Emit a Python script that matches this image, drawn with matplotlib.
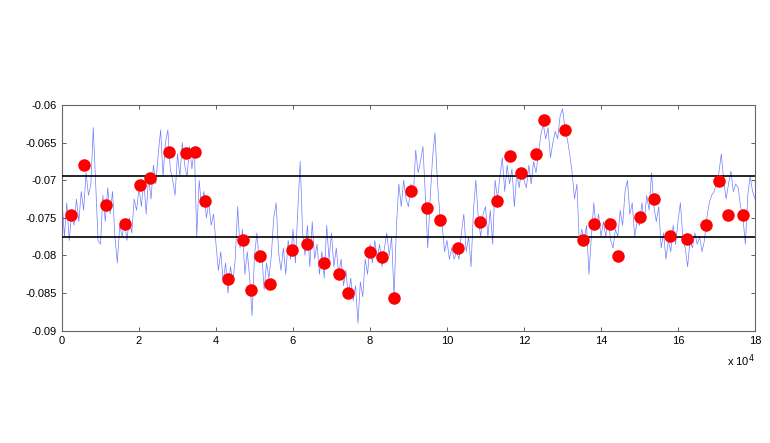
#!/usr/bin/env python3
import numpy as np
import matplotlib
matplotlib.use("Agg")
import matplotlib.pyplot as plt

# Blue trace, 16 samples per x unit (x in units of 1e4), values in 1e-3
trace_milli = [
    -72.5, -77.5, -73.0, -78.0, -74.5, -76.0, -72.5, -75.5, -71.5, -74.0, -69.0, -72.0, -70.5, -63.0, -70.5, -78.0,
    -78.5, -72.0, -75.5, -71.0, -74.5, -71.5, -77.5, -81.0, -76.0, -77.5, -75.5, -78.0, -75.0, -77.0, -72.5, -74.0,
    -71.0, -73.5, -70.0, -74.5, -69.5, -72.5, -68.0, -70.5, -66.5, -63.3, -69.5, -65.0, -63.3, -68.5, -70.0, -72.0,
    -66.5, -69.5, -65.0, -68.0, -69.5, -65.5, -68.5, -65.5, -77.5, -70.0, -73.5, -71.5, -75.0, -73.0, -76.0, -74.5,
    -78.5, -82.0, -79.5, -83.5, -81.0, -85.0, -81.5, -83.5, -80.5, -73.5, -79.0, -76.5, -82.5, -79.5, -83.0, -88.0,
    -80.0, -77.0, -81.0, -79.5, -84.5, -81.0, -83.0, -80.0, -75.0, -73.0, -79.5, -82.0, -79.0, -82.5, -78.0, -80.5,
    -76.5, -81.0, -74.0, -67.5, -77.0, -80.0, -76.0, -81.5, -75.5, -80.5, -78.5, -82.5, -79.5, -83.0, -76.0, -80.5,
    -77.0, -81.5, -79.0, -82.5, -80.5, -84.0, -82.0, -85.5, -83.0, -86.0, -84.0, -89.0, -83.5, -85.5, -80.5, -82.5,
    -78.5, -81.0, -78.0, -80.5, -78.5, -81.5, -79.0, -77.0, -80.0, -77.5, -85.5, -76.0, -70.5, -73.5, -70.0, -72.5,
    -73.5, -70.5, -72.0, -66.0, -69.0, -67.5, -65.5, -72.0, -79.0, -72.5, -67.0, -63.7, -70.0, -74.5, -76.0, -79.5,
    -78.0, -80.5, -79.0, -80.5, -79.5, -80.5, -77.0, -74.5, -79.5, -77.5, -81.5, -74.0, -70.0, -75.0, -77.5, -74.5,
    -73.5, -77.5, -74.0, -78.5, -70.0, -72.5, -69.5, -67.0, -71.5, -68.0, -70.5, -68.5, -73.5, -69.0, -71.0, -68.5,
    -70.0, -71.0, -68.0, -70.5, -67.5, -69.0, -66.5, -64.0, -62.5, -64.5, -63.0, -67.0, -65.0, -63.5, -64.5, -61.5,
    -60.5, -63.0, -64.5, -66.5, -69.0, -72.5, -70.5, -78.5, -76.5, -78.0, -76.0, -82.5, -77.5, -73.0, -76.5, -74.5,
    -77.5, -75.5, -77.5, -75.0, -78.0, -79.0, -76.5, -77.5, -74.0, -76.0, -71.5, -70.0, -74.5, -73.0, -77.5, -75.5,
    -76.0, -73.0, -75.5, -72.0, -74.0, -69.0, -73.5, -75.5, -73.5, -79.0, -77.0, -80.5, -78.0, -79.5, -76.0, -78.5,
    -75.5, -73.0, -77.5, -79.0, -81.5, -78.0, -79.0, -77.0, -78.5, -77.5, -79.5, -78.0, -75.0, -73.0, -72.0, -71.5,
    -70.5, -69.0, -66.5, -70.0, -72.5, -70.5, -68.8, -71.5, -70.5, -71.0, -73.5, -75.0, -78.5, -72.0, -69.5, -71.5,
    -72.5,
]
samples_per_unit = 16

# Red dots
dot_x = [0.23, 0.57, 1.14, 1.64, 2.03, 2.29, 2.78, 3.22, 3.45, 3.71,
         4.31, 4.70, 4.91, 5.14, 5.40, 5.97, 6.36, 6.81, 7.19, 7.43,
         8.00, 8.31, 8.62, 9.06, 9.48, 9.82, 10.29, 10.86, 11.30, 11.64,
         11.92, 12.31, 12.52, 13.06, 13.53, 13.82, 14.23, 14.44, 15.01, 15.38,
         15.79, 16.23, 16.73, 17.06, 17.30, 17.69]
dot_y = [-0.0746, -0.0680, -0.0733, -0.0758, -0.0706, -0.0697, -0.0662, -0.0664, -0.0663, -0.0728,
         -0.0831, -0.0780, -0.0846, -0.0801, -0.0838, -0.0793, -0.0785, -0.0810, -0.0825, -0.0850,
         -0.0796, -0.0802, -0.0857, -0.0714, -0.0737, -0.0753, -0.0790, -0.0756, -0.0728, -0.0668,
         -0.0690, -0.0665, -0.0620, -0.0633, -0.0780, -0.0758, -0.0758, -0.0801, -0.0749, -0.0725,
         -0.0774, -0.0778, -0.0760, -0.0701, -0.0746, -0.0746]

# Horizontal reference levels
levels = [-0.0694, -0.0776]

x_ticks = [0, 2, 4, 6, 8, 10, 12, 14, 16, 18]
y_ticks = [-0.09, -0.085, -0.08, -0.075, -0.07, -0.065, -0.06]
y_labels = ["-0.09", "-0.085", "-0.08", "-0.075", "-0.07", "-0.065", "-0.06"]

plt.rcParams["font.family"] = ["Liberation Sans", "DejaVu Sans"]

trace_y = np.array(trace_milli) / 1000.0
trace_x = np.arange(len(trace_y)) / samples_per_unit

fig = plt.figure(figsize=(7.7, 4.43), dpi=100)
ax = fig.add_axes([0.0805, 0.2535, 0.9, 0.5095])

ax.plot(trace_x, trace_y, color="#3347ff", lw=0.5, alpha=0.7, zorder=2)
for lv in levels:
    ax.axhline(lv, color="black", lw=1.2, zorder=3)
ax.plot(dot_x, dot_y, "o", color="red", markersize=9, markeredgewidth=0, zorder=4)

ax.set_xlim(0, 18)
ax.set_ylim(-0.09, -0.06)
ax.set_xticks(x_ticks)
ax.set_xticklabels([str(t) for t in x_ticks])
ax.set_yticks(y_ticks)
ax.set_yticklabels(y_labels)
ax.tick_params(direction="in", top=True, right=True, length=3, width=0.6,
               labelsize=8, color="#444444")
for s in ax.spines.values():
    s.set_color("#666666")
    s.set_linewidth(0.8)

ax.text(1.0, -0.095, "x 10$^4$", transform=ax.transAxes, fontsize=8,
        ha="right", va="top")

fig.savefig("out.png", dpi=100)
